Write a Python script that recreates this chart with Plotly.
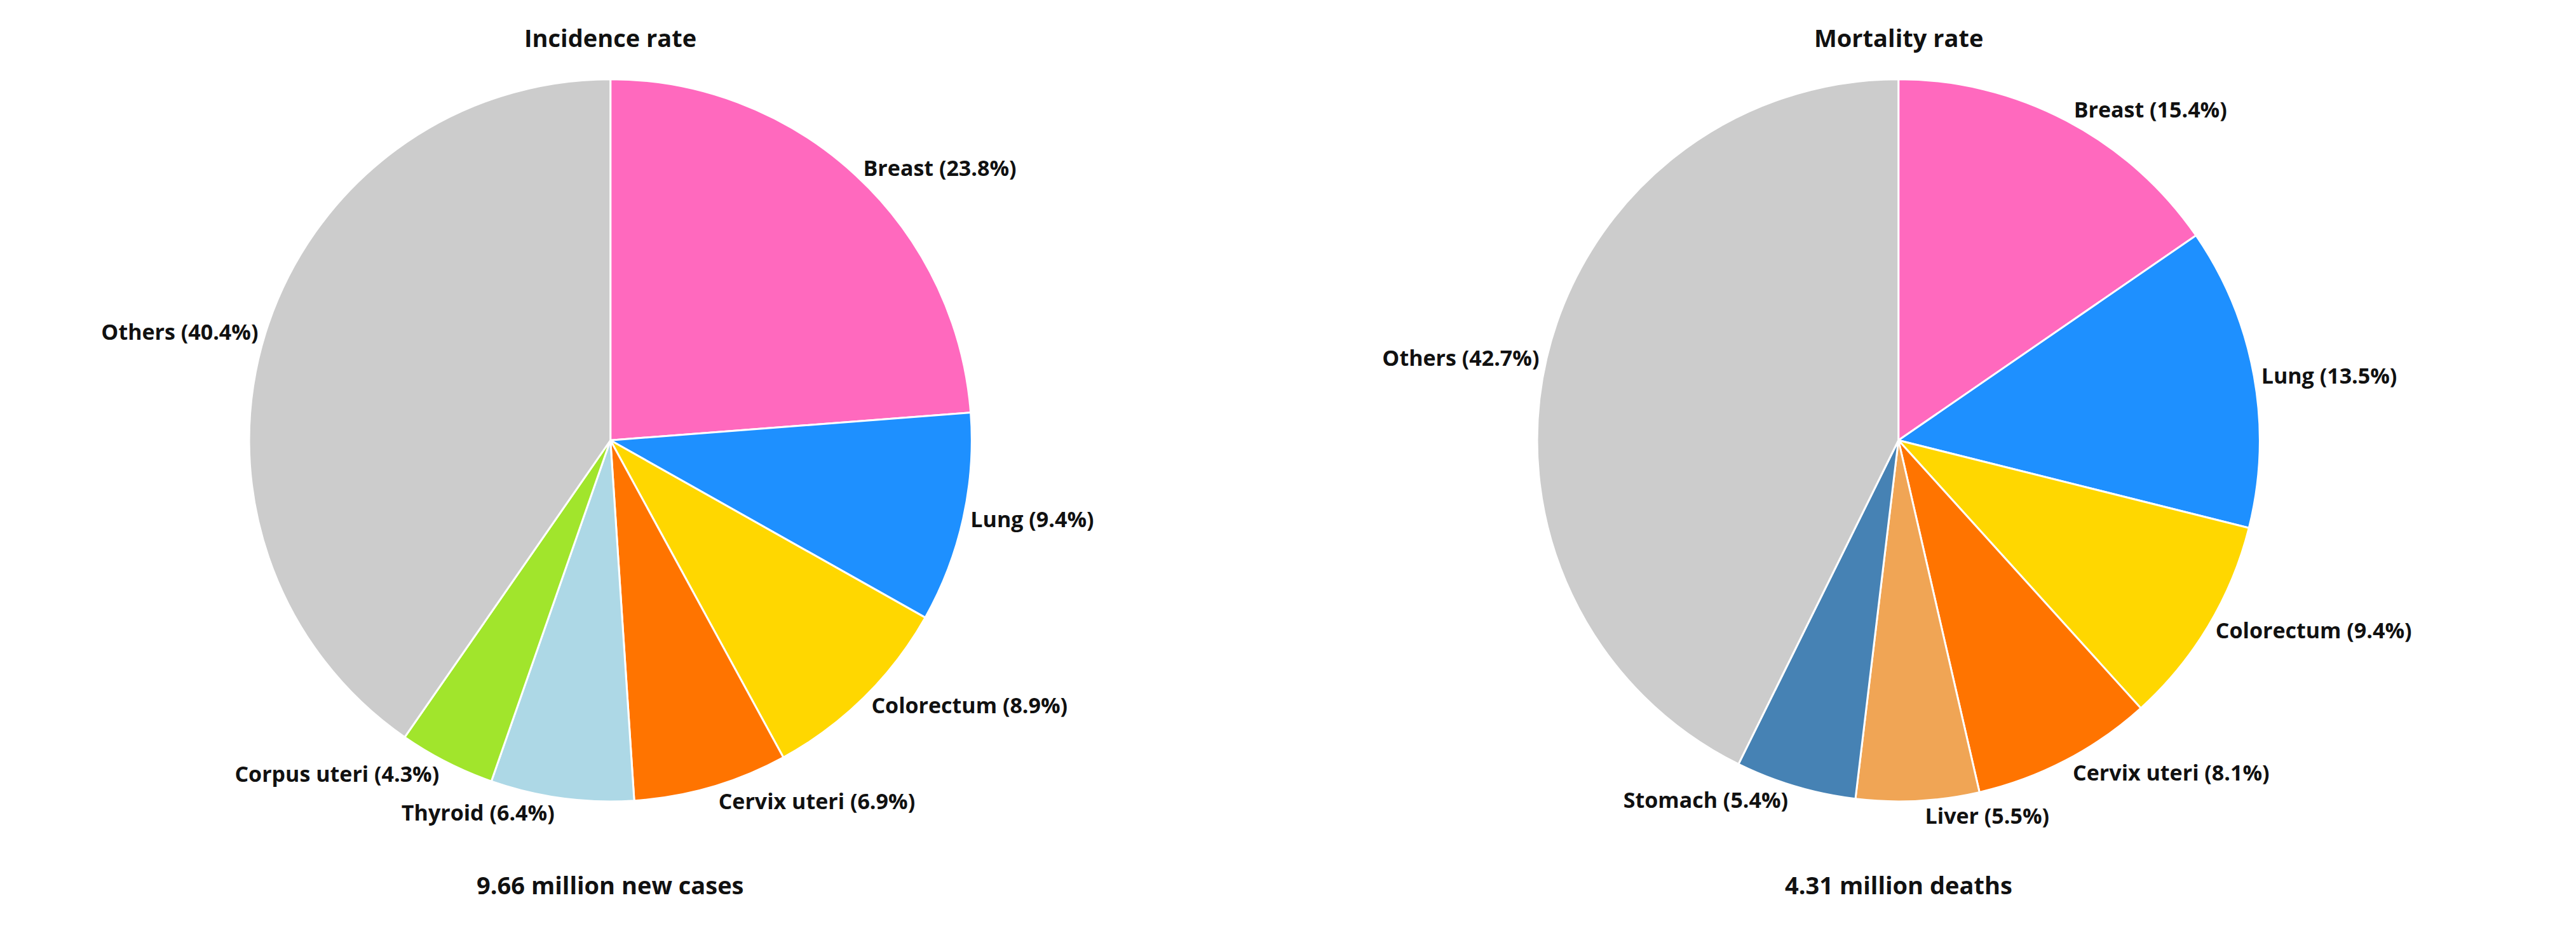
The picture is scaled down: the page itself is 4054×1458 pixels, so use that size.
import plotly.graph_objects as go

inc_labels = ["Breast", "Lung", "Colorectum", "Cervix uteri", "Thyroid", "Corpus uteri", "Others"]
inc_values = [23.8, 9.4, 8.9, 6.9, 6.4, 4.3, 40.4]
inc_colors = ["#FF69BE", "#1E90FF", "#FFD700", "#FF7400", "#ADD8E6", "#A1E52C", "#CCCCCC"]

mort_labels = ["Breast", "Lung", "Colorectum", "Cervix uteri", "Liver", "Stomach", "Others"]
mort_values = [15.4, 13.5, 9.4, 8.1, 5.5, 5.4, 42.7]
mort_colors = ["#FF69BE", "#1E90FF", "#FFD700", "#FF7400", "#F0A555", "#4682B4", "#CCCCCC"]

FONT = "Open Sans"

fig = go.Figure()

for labels, values, colors, dom in [
    (inc_labels, inc_values, inc_colors, [0.085, 0.385]),
    (mort_labels, mort_values, mort_colors, [0.585, 0.885]),
]:
    fig.add_trace(go.Pie(
        labels=labels, values=values,
        marker=dict(colors=colors, line=dict(color="white", width=3)),
        sort=False, direction="clockwise", rotation=0,
        textposition="outside",
        texttemplate="<b>%{label} (%{value:.1f}%)</b>",
        textfont=dict(family=FONT, size=34, color="#111111"),
        domain=dict(x=dom, y=[0.14, 0.92]),
        showlegend=False, hoverinfo="label+value",
    ))

def label(x, y, text):
    return dict(x=x, y=y, xref="paper", yref="paper", text=f"<b>{text}</b>",
                xanchor="center", yanchor="middle",
                showarrow=False, font=dict(family=FONT, size=38, color="#111111"))

fig.update_layout(
    width=4054, height=1458,
    paper_bgcolor="white", plot_bgcolor="white",
    margin=dict(l=0, r=0, t=0, b=0),
    annotations=[
        label(0.235, 0.965, "Incidence rate"),
        label(0.735, 0.965, "Mortality rate"),
        label(0.235, 0.05, "9.66 million new cases"),
        label(0.735, 0.05, "4.31 million deaths"),
    ],
)

fig.write_html("out.html")
